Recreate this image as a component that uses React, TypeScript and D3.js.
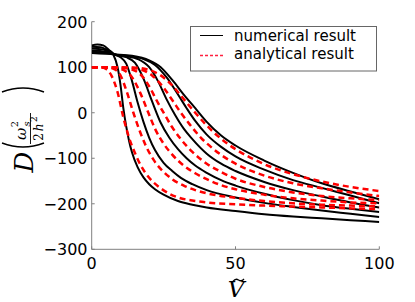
import React from "react";
import * as d3 from "d3";

const xTicks = [0, 50, 100];
const yTicks = [-300, -200, -100, 0, 100, 200];
const legendLabels = ["numerical result", "analytical result"];

// numerical result (black solid)
const numerical0: [number, number][] = [[0,148],[2,150],[4,148],[6,138],[7.5,128],[9,100],[10,62],[11,10],[12,-30],[13,-62],[14,-87],[16,-120],[18,-142],[20,-157],[22,-168],[25,-180],[30,-194],[35,-202],[40,-208],[50,-216],[60,-223],[70,-228],[80,-232],[90,-236],[100,-240]];
const numerical1: [number, number][] = [[0,145],[3,144],[6,136],[8,128],[10,122],[12,108],[14,70],[16,22],[18,-20],[20,-55],[22,-82],[25,-110],[28,-128],[31,-143],[35,-157],[40,-170],[50,-186],[60,-198],[70,-207],[80,-215],[90,-222],[100,-229]];
const numerical2: [number, number][] = [[0,141],[4,139],[6,134],[8,128],[12,122],[15,110],[18,75],[21,25],[24,-22],[27,-55],[30,-80],[33,-100],[36,-116],[40,-132],[45,-148],[50,-160],[60,-178],[70,-192],[80,-203],[90,-211],[100,-218]];
const numerical3: [number, number][] = [[0,137],[5,134],[8,128],[12,124],[16,118],[20,100],[23,70],[26,30],[29,-5],[32,-35],[35,-58],[40,-90],[45,-112],[50,-128],[60,-152],[70,-170],[80,-184],[90,-197],[100,-208]];
const numerical4: [number, number][] = [[0,134],[5,132],[8,128],[12,125],[18,118],[22,105],[26,78],[30,40],[33,10],[36,-18],[40,-48],[45,-75],[50,-96],[60,-125],[70,-148],[80,-165],[90,-182],[100,-199]];
const numerical5: [number, number][] = [[0,131],[8,128],[14,125],[20,115],[24,100],[28,72],[32,40],[36,10],[40,-20],[45,-50],[50,-72],[60,-105],[70,-132],[80,-155],[90,-173],[100,-190]];

// analytical result (red dashed)
const analytical0: [number, number][] = [[0,100],[3,100],[5,96],[7,80],[9,45],[11,-10],[13,-55],[15,-88],[17,-115],[19,-135],[21,-150],[24,-166],[27,-178],[30,-186],[35,-193],[40,-197],[50,-201],[60,-204],[70,-206],[80,-208],[90,-210],[100,-212]];
const analytical1: [number, number][] = [[0,100],[5,100],[8,95],[10,82],[12,50],[14.5,0],[17,-45],[19,-75],[22,-108],[25,-130],[28,-146],[32,-160],[36,-170],[40,-177],[50,-187],[60,-194],[70,-199],[80,-202],[90,-204],[100,-206]];
const analytical2: [number, number][] = [[0,100],[8,99],[11,94],[14,78],[17,42],[19.7,0],[22,-35],[25,-68],[28,-92],[32,-116],[36,-133],[40,-146],[45,-159],[50,-168],[60,-180],[70,-188],[80,-193],[90,-197],[100,-199]];
const analytical3: [number, number][] = [[0,100],[10,99],[14,95],[17,84],[20,58],[22.5,28],[25,0],[28,-32],[31,-58],[35,-86],[40,-112],[45,-130],[50,-145],[60,-163],[70,-175],[80,-183],[90,-188],[100,-192]];
const analytical4: [number, number][] = [[0,100],[13,99],[17,95],[21,82],[25,55],[28,28],[31,0],[34,-25],[38,-55],[42,-78],[46,-97],[50,-112],[60,-138],[70,-155],[80,-166],[90,-175],[100,-183]];
const analytical5: [number, number][] = [[0,100],[15,99],[20,94],[24,82],[28,60],[32,30],[36,0],[40,-28],[44,-52],[50,-80],[55,-98],[60,-113],[70,-135],[80,-151],[90,-163],[100,-172]];

const numericalSeries = [numerical0, numerical1, numerical2, numerical3, numerical4, numerical5];
const analyticalSeries = [analytical0, analytical1, analytical2, analytical3, analytical4, analytical5];

export default function App() {
  const W = 415, H = 302;
  const x = d3.scaleLinear().domain([0, 100]).range([91.7, 379.3]);
  const y = d3.scaleLinear().domain([-300, 200]).range([249.3, 21.7]);
  const line = d3.line<[number, number]>().x(d => x(d[0])).y(d => y(d[1])).curve(d3.curveMonotoneX);
  const axisColor = "#808080";
  const font = "DejaVu Sans";
  return (
    <div style={{ position: "absolute", left: 0, top: 0 }}>
      <svg width={W} height={H} style={{ display: "block", background: "#fff" }}>
        <defs>
          <clipPath id="plot">
            <rect x={x(0)} y={y(200)} width={x(100) - x(0)} height={y(-300) - y(200)} />
          </clipPath>
        </defs>
        {/* axes */}
        <line x1={x(0)} y1={y(-300)} x2={x(100)} y2={y(-300)} stroke={axisColor} strokeWidth={1} />
        <line x1={x(0)} y1={y(-300)} x2={x(0)} y2={y(200)} stroke={axisColor} strokeWidth={1} />
        {xTicks.map(t => (
          <g key={"xt" + t}>
            <line x1={x(t)} x2={x(t)} y1={y(-300)} y2={y(-300) - 3} stroke={axisColor} />
            <text x={x(t)} y={268.5} textAnchor="middle" fontFamily={font} fontSize={16} fill="#000">{t}</text>
          </g>
        ))}
        {yTicks.map(t => (
          <g key={"yt" + t}>
            <line x1={x(0)} x2={x(0) + 3} y1={y(t)} y2={y(t)} stroke={axisColor} />
            <text x={87.5} y={y(t) + 5.8} textAnchor="end" fontFamily={font} fontSize={16} fill="#000">{t < 0 ? "\u2212" + Math.abs(t) : String(t)}</text>
          </g>
        ))}
        <g clipPath="url(#plot)">
          {numericalSeries.map((s, i) => (
            <path key={"n" + i} d={line(s) || ""} fill="none" stroke="#000" strokeWidth={2} />
          ))}
          {analyticalSeries.map((s, i) => (
            <path key={"a" + i} d={line(s) || ""} fill="none" stroke="#ff0000" strokeWidth={2.5} strokeDasharray="6,4" />
          ))}
        </g>
        {/* legend */}
        <rect x={190.5} y={26.5} width={186} height={44.5} fill="#fff" stroke="#666" strokeWidth={1} />
        <line x1={200} x2={223} y1={35.5} y2={35.5} stroke="#000" strokeWidth={1} />
        <line x1={200} x2={223} y1={55.5} y2={55.5} stroke="#ff2040" strokeWidth={1.3} strokeDasharray="3,2" />
        <text x={234} y={41} fontFamily={font} fontSize={15} fill="#000">{legendLabels[0]}</text>
        <text x={234} y={59} fontFamily={font} fontSize={15} fill="#000">{legendLabels[1]}</text>
        {/* x label */}
        <text x={236} y={297} textAnchor="middle" fontFamily="DejaVu Serif" fontStyle="italic" fontSize={23} fill="#000">V</text>
        <path d="M233,281.5 Q235.5,278 238.5,280 T244,279" fill="none" stroke="#000" strokeWidth={1.3} />
        {/* y label */}
        <g transform="translate(33,130) rotate(-90)">
          <text x={-32} y={0} textAnchor="middle" fontFamily="DejaVu Serif" fontStyle="italic" fontSize={26} fill="#000">D</text>
          <path d="M-13,-31 Q-21,-10 -13,11" fill="none" stroke="#000" strokeWidth={1.4} />
          <path d="M38,-31 Q46,-10 38,11" fill="none" stroke="#000" strokeWidth={1.4} />
          <text x={-4} y={-7} textAnchor="middle" fontFamily="DejaVu Serif" fontStyle="italic" fontSize={15} fill="#000">ω</text>
          <text x={6} y={-15} textAnchor="middle" fontFamily="DejaVu Serif" fontSize={10} fill="#000">2</text>
          <text x={6} y={-3} textAnchor="middle" fontFamily="DejaVu Serif" fontStyle="italic" fontSize={10} fill="#000">s</text>
          <line x1={-14} x2={17} y1={-2.5} y2={-2.5} stroke="#000" strokeWidth={0.9} />
          <text x={-7} y={10} textAnchor="middle" fontFamily="DejaVu Serif" fontSize={12} fill="#000">2</text>
          <text x={2.5} y={10} textAnchor="middle" fontFamily="DejaVu Serif" fontStyle="italic" fontSize={12} fill="#000">h</text>
          <text x={11} y={4} textAnchor="middle" fontFamily="DejaVu Serif" fontSize={9} fill="#000">2</text>
        </g>
      </svg>
    </div>
  );
}
